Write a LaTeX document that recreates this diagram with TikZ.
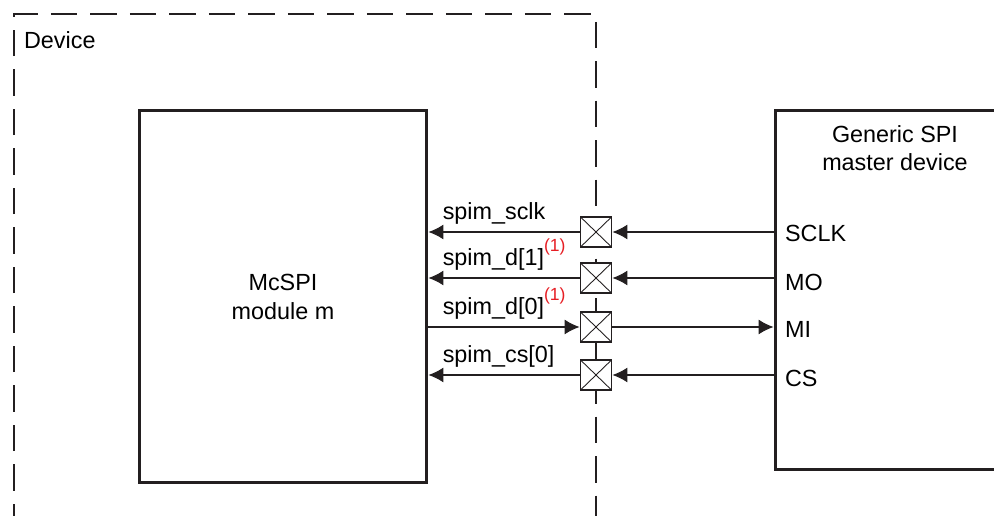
\documentclass[tikz,border=0pt]{standalone}
\usepackage{fontspec}
\setmainfont{Liberation Sans}
\usepackage{xcolor}
\usetikzlibrary{arrows.meta,positioning}
\definecolor{notered}{RGB}{230,30,36}
\definecolor{lineblack}{RGB}{35,31,32}
\newcommand{\noteone}{\raisebox{0.62em}{\fontsize{10}{12}\selectfont\textcolor{notered}{(1)}}}
\tikzset{
  devicebox/.style={
    draw=lineblack,
    line width=1.1pt,
    dash pattern=on 0.53cm off 0.26cm
  },
  blockbox/.style={
    rectangle,
    draw=lineblack,
    line width=1.7pt,
    align=center,
    inner sep=0pt,
    font=\fontsize{13.3}{16.5}\selectfont
  },
  padbox/.style={
    rectangle,
    draw=lineblack,
    line width=1.1pt,
    fill=white,
    minimum width=0.62cm,
    minimum height=0.6cm,
    inner sep=0pt,
    path picture={
      \draw[line width=0.5pt, lineblack]
        (path picture bounding box.south west) -- (path picture bounding box.north east)
        (path picture bounding box.north west) -- (path picture bounding box.south east);
    }
  },
  sigtext/.style={
    inner sep=1pt,
    font=\fontsize{13.3}{16}\selectfont
  },
  sigarrow/.style={
    -{Latex[length=0.3cm, width=0.3cm]},
    line width=0.6pt,
    draw=lineblack
  }
}

\begin{document}
\begin{tikzpicture}[x=0.02cm, y=-0.02cm]
\useasboundingbox (0,0) rectangle (994,516);
\clip (0,0) rectangle (994,516);

% device border
\draw[devicebox] (14,530) -- (14,14) -- (596,14) -- (596,530);
\node[sigtext, anchor=west] (devlabel) at (22,40) {Device};

% blocks
\node[blockbox, minimum width=5.76cm, minimum height=7.46cm] (mcspi) at (283,296.5) {McSPI\\module m};
\node[blockbox, minimum width=4.8cm, minimum height=7.2cm] (master) at (895,290) {};
\node[sigtext, align=center] (mastertitle) at (895,148) {Generic SPI\\master device};

% pads on the device border
\node[padbox] (padsclk) at (596,232) {};
\node[padbox] (padmo) at (596,278) {};
\node[padbox] (padmi) at (596,327) {};
\node[padbox] (padcs) at (596,375) {};

% pins of the master
\node[sigtext, anchor=west] (pinsclk) at (783,233) {SCLK};
\node[sigtext, anchor=west] (pinmo) at (783,282) {MO};
\node[sigtext, anchor=west] (pinmi) at (783,329) {MI};
\node[sigtext, anchor=west] (pincs) at (783,378) {CS};

% module side
\draw[sigarrow] (padsclk) -- (padsclk -| mcspi.east)
  node[sigtext, anchor=south west, xshift=0.24cm, yshift=0.1cm] (lblsclk) {spim\_sclk};
\draw[sigarrow] (padmo) -- (padmo -| mcspi.east)
  node[sigtext, anchor=south west, xshift=0.24cm, yshift=0.1cm] (lblmo) {spim\_d[1]\noteone};
\draw[sigarrow] (padmi -| mcspi.east) -- (padmi)
  node[sigtext, pos=0, anchor=south west, xshift=0.24cm, yshift=0.1cm] (lblmi) {spim\_d[0]\noteone};
\draw[sigarrow] (padcs) -- (padcs -| mcspi.east)
  node[sigtext, anchor=south west, xshift=0.24cm, yshift=0.1cm] (lblcs) {spim\_cs[0]};

% master side
\draw[sigarrow] (padsclk -| master.west) -- (padsclk);
\draw[sigarrow] (padmo -| master.west) -- (padmo);
\draw[sigarrow] (padmi) -- (padmi -| master.west);
\draw[sigarrow] (padcs -| master.west) -- (padcs);
\end{tikzpicture}
\end{document}
